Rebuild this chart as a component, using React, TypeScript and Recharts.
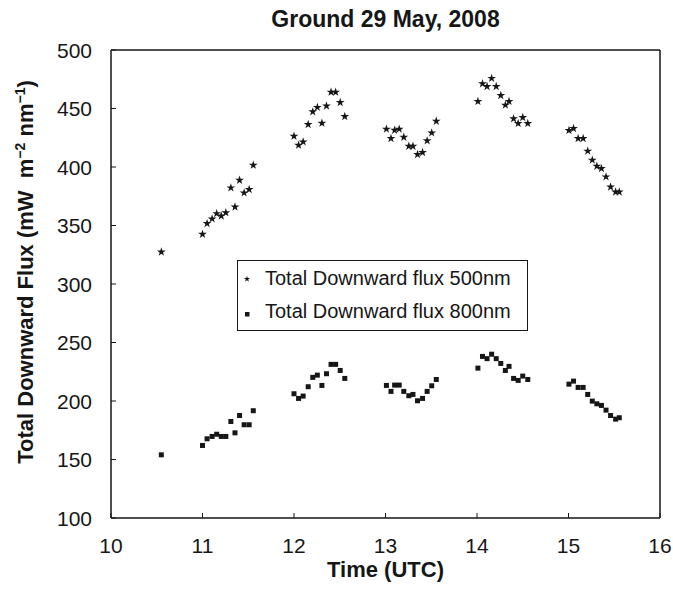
import React from "react";
import { ScatterChart, Scatter, XAxis, YAxis, Legend, Symbols } from "recharts";

// sample times (UTC hours), shared by both wavelengths
const times = [
  10.55,
  11.0, 11.05, 11.105, 11.155, 11.205, 11.255, 11.31, 11.355, 11.405, 11.455, 11.51, 11.555,
  12.0, 12.05, 12.1, 12.155, 12.205, 12.255, 12.305, 12.355, 12.405, 12.455, 12.505, 12.555,
  13.01, 13.06, 13.1, 13.15, 13.2, 13.255, 13.3, 13.35, 13.405, 13.455, 13.505, 13.555,
  14.01, 14.06, 14.11, 14.16, 14.21, 14.26, 14.31, 14.35, 14.4, 14.45, 14.5, 14.555,
  15.005, 15.055, 15.105, 15.16, 15.21, 15.26, 15.31, 15.36, 15.41, 15.46, 15.515, 15.555,
];

const flux500 = [
  327.4,
  342.5, 351.7, 355.7, 360.2, 358.2, 361, 382.2, 365.9, 388.7, 377.9, 380.8, 401.6,
  426.4, 418.7, 421.5, 436.4, 447.2, 451, 437.5, 452.1, 464, 464, 455.2, 443.2,
  432.4, 424.4, 431.5, 432.4, 425.5, 417.8, 417.8, 410.7, 412.4, 422.4, 429.2, 439.2,
  456.1, 471.2, 468.9, 475.8, 468.9, 461.2, 452.9, 456.1, 441.2, 437.3, 442.4, 437.3,
  431.3, 433, 424.4, 424.4, 413.6, 405.9, 400.7, 398.7, 391.6, 383, 378.7, 378.7,
];

const flux800 = [
  154,
  162, 167.7, 169.7, 171.6, 169.7, 169.7, 182.5, 172.8, 187.6, 179.7, 179.7, 191.7,
  206.2, 202.2, 204.2, 212.2, 220.2, 222.1, 213.3, 223.3, 231.3, 231.3, 226.1, 219.3,
  213.3, 208.2, 213.6, 213.6, 208.2, 204.5, 205.6, 200.2, 202.2, 208.2, 213, 218.4,
  228.1, 238.1, 236.2, 240, 236.2, 232.1, 226.1, 229.6, 219.3, 217.6, 221.3, 218.4,
  214.4, 217, 211.6, 211.6, 205.6, 199.9, 197.6, 196.2, 192.2, 187.6, 184.5, 185.7,
];

const xTicks = [10, 11, 12, 13, 14, 15, 16];
const yTicks = [100, 150, 200, 250, 300, 350, 400, 450, 500];
const seriesNames = ["Total Downward flux 500nm", "Total Downward flux 800nm"];
const chartTitle = "Ground 29 May, 2008";

const FONT = "'Liberation Sans', Arial, Helvetica, sans-serif";
const INK = "#161616";

const data500 = times.map((t, i) => ({ time: t, flux: flux500[i] }));
const data800 = times.map((t, i) => ({ time: t, flux: flux800[i] }));

const StarDot = (props: any) => (
  <Symbols cx={props.cx} cy={props.cy} type="star" size={24} fill={INK} />
);

const SquareDot = (props: any) => (
  <rect x={props.cx - 2.5} y={props.cy - 2.5} width={5} height={5} fill={INK} />
);

const XTick = (props: any) => (
  <text x={props.x} y={props.y} dy={15} textAnchor="middle" fontFamily={FONT}
    fontSize={21} fill={INK}>
    {props.payload.value}
  </text>
);

const YTick = (props: any) => (
  <text x={props.x} y={props.y} dy={7.5} textAnchor="end" fontFamily={FONT}
    fontSize={21} fill={INK}>
    {props.payload.value}
  </text>
);

const TitleLabel = (props: any) => {
  const vb = props.viewBox || { x: 111, width: 549 };
  return (
    <text x={vb.x + vb.width / 2} y={27} textAnchor="middle" fontFamily={FONT}
      fontSize={23} fontWeight="bold" fill={INK}>
      {chartTitle}
    </text>
  );
};

const XTitle = (props: any) => {
  const vb = props.viewBox || { x: 111, y: 518, width: 549 };
  return (
    <text x={vb.x + vb.width / 2} y={vb.y + 59} textAnchor="middle" fontFamily={FONT}
      fontSize={22} fontWeight="bold" fill={INK}>
      Time (UTC)
    </text>
  );
};

const YTitle = () => (
  <text x={33} y={272} transform="rotate(-90, 33, 272)" textAnchor="middle"
    fontFamily={FONT} fontSize={22} fontWeight="bold" fill={INK}
    style={{ whiteSpace: "pre" }}>
    <tspan>Total Downward Flux (mW  m</tspan>
    <tspan dy={-8} fontSize={14}>−2</tspan>
    <tspan dy={8}> nm</tspan>
    <tspan dy={-8} fontSize={14}>−1</tspan>
    <tspan dy={8}>)</tspan>
  </text>
);

const LegendBox = () => (
  <div style={{
    boxSizing: "border-box", width: 291, height: 71, border: `1px solid ${INK}`,
    background: "#fff", paddingTop: 1, fontFamily: FONT, fontSize: 20,
    lineHeight: "33px", color: INK,
  }}>
    {seriesNames.map((name, i) => (
      <div key={name} style={{ display: "flex", alignItems: "center", whiteSpace: "nowrap" }}>
        <svg width={10} height={10} style={{ marginLeft: 4, position: "relative", top: i === 1 ? 2 : 0 }}>
          {i === 0
            ? <Symbols cx={5} cy={5} type="star" size={12} fill={INK} />
            : <rect x={3} y={3} width={4.5} height={4.5} fill={INK} />}
        </svg>
        <span style={{ marginLeft: 13 }}>{name}</span>
      </div>
    ))}
  </div>
);

export default function App() {
  const axisStroke = { stroke: INK, strokeWidth: 1.5 };
  return (
    <div style={{ position: "fixed", left: 0, top: 0, width: 673, height: 594, background: "#fff" }}>
      <ScatterChart width={673} height={594} margin={{ top: 0, right: 0, bottom: 0, left: 0 }}>
        <XAxis dataKey="time" type="number" domain={[10, 16]} ticks={xTicks}
          allowDataOverflow height={76} tickSize={-5} tickMargin={25}
          axisLine={axisStroke} tickLine={{ stroke: INK, strokeWidth: 1 }}
          tick={XTick} label={XTitle} />
        <XAxis xAxisId="top" orientation="top" type="number" domain={[10, 16]} ticks={xTicks}
          allowDataOverflow height={50} tickSize={-5} tick={false}
          axisLine={axisStroke} tickLine={{ stroke: INK, strokeWidth: 1 }} label={TitleLabel} />
        <YAxis dataKey="flux" type="number" domain={[100, 500]} ticks={yTicks}
          allowDataOverflow width={111} tickSize={-5} tickMargin={24}
          axisLine={axisStroke} tickLine={{ stroke: INK, strokeWidth: 1 }}
          tick={YTick} label={YTitle} />
        <YAxis yAxisId="right" orientation="right" type="number" domain={[100, 500]}
          allowDataOverflow width={13} tick={false} tickLine={false} axisLine={axisStroke} />
        <Legend layout="vertical" align="center" verticalAlign="middle"
          wrapperStyle={{ left: 237, top: 260, width: 291, height: 71 }}
          content={() => <LegendBox />} />
        <Scatter name={seriesNames[0]} data={data500} dataKey="flux" fill={INK}
          shape={StarDot} isAnimationActive={false} />
        <Scatter name={seriesNames[1]} data={data800} dataKey="flux" fill={INK}
          shape={SquareDot} isAnimationActive={false} />
      </ScatterChart>
    </div>
  );
}
